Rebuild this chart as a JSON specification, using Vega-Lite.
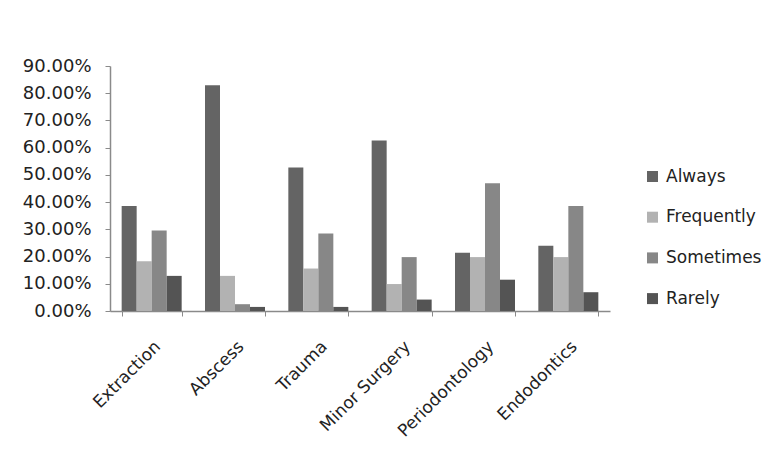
{
  "$schema": "https://vega.github.io/schema/vega-lite/v6.json",
  "autosize": "none",
  "width": 500,
  "height": 245,
  "padding": {"left": 110, "top": 66, "right": 174, "bottom": 158},
  "background": "white",
  "config": {
    "view": {"stroke": null},
    "font": "DejaVu Sans",
    "axis": {"labelFont": "DejaVu Sans", "labelColor": "#222222", "domainColor": "#8a8a8a", "tickColor": "#8a8a8a", "grid": false},
    "legend": {"labelFont": "DejaVu Sans"}
  },
  "data": {
    "values": [
      {"category": "Extraction", "series": "Always", "value": 0.386},
      {"category": "Extraction", "series": "Frequently", "value": 0.183},
      {"category": "Extraction", "series": "Sometimes", "value": 0.296},
      {"category": "Extraction", "series": "Rarely", "value": 0.129},
      {"category": "Abscess", "series": "Always", "value": 0.829},
      {"category": "Abscess", "series": "Frequently", "value": 0.129},
      {"category": "Abscess", "series": "Sometimes", "value": 0.025},
      {"category": "Abscess", "series": "Rarely", "value": 0.015},
      {"category": "Trauma", "series": "Always", "value": 0.527},
      {"category": "Trauma", "series": "Frequently", "value": 0.156},
      {"category": "Trauma", "series": "Sometimes", "value": 0.285},
      {"category": "Trauma", "series": "Rarely", "value": 0.015},
      {"category": "Minor Surgery", "series": "Always", "value": 0.626},
      {"category": "Minor Surgery", "series": "Frequently", "value": 0.099},
      {"category": "Minor Surgery", "series": "Sometimes", "value": 0.198},
      {"category": "Minor Surgery", "series": "Rarely", "value": 0.042},
      {"category": "Periodontology", "series": "Always", "value": 0.214},
      {"category": "Periodontology", "series": "Frequently", "value": 0.198},
      {"category": "Periodontology", "series": "Sometimes", "value": 0.469},
      {"category": "Periodontology", "series": "Rarely", "value": 0.115},
      {"category": "Endodontics", "series": "Always", "value": 0.240},
      {"category": "Endodontics", "series": "Frequently", "value": 0.198},
      {"category": "Endodontics", "series": "Sometimes", "value": 0.386},
      {"category": "Endodontics", "series": "Rarely", "value": 0.069}
    ]
  },
  "mark": {"type": "bar"},
  "encoding": {
    "x": {
      "field": "category",
      "type": "nominal",
      "sort": ["Extraction", "Abscess", "Trauma", "Minor Surgery", "Periodontology", "Endodontics"],
      "scale": {"paddingInner": 0.28, "paddingOuter": 0.14},
      "axis": {"title": null, "labelAngle": -45, "labelFontSize": 17, "tickBand": "extent", "tickSize": 5, "labelPadding": 22, "labelDx": -11, "domainWidth": 1.5, "labelOverlap": false}
    },
    "xOffset": {
      "field": "series",
      "type": "nominal",
      "sort": ["Always", "Frequently", "Sometimes", "Rarely"]
    },
    "y": {
      "field": "value",
      "type": "quantitative",
      "scale": {"domain": [0, 0.9], "nice": false},
      "axis": {"title": null, "format": ".2%", "values": [0, 0.1, 0.2, 0.3, 0.4, 0.5, 0.6, 0.7, 0.8, 0.9], "labelFontSize": 18, "tickSize": 5, "labelPadding": 14, "domainWidth": 1.5, "labelOverlap": false, "labelBound": false}
    },
    "color": {
      "field": "series",
      "type": "nominal",
      "sort": ["Always", "Frequently", "Sometimes", "Rarely"],
      "scale": {"domain": ["Always", "Frequently", "Sometimes", "Rarely"], "range": ["#646464", "#b2b2b2", "#878787", "#545454"]},
      "legend": {"title": null, "orient": "none", "legendX": 534, "legendY": 102, "symbolType": "square", "symbolSize": 121, "symbolStrokeWidth": 0, "labelFontSize": 17, "labelColor": "#222222", "rowPadding": 22.7, "labelOffset": 5}
    }
  }
}
